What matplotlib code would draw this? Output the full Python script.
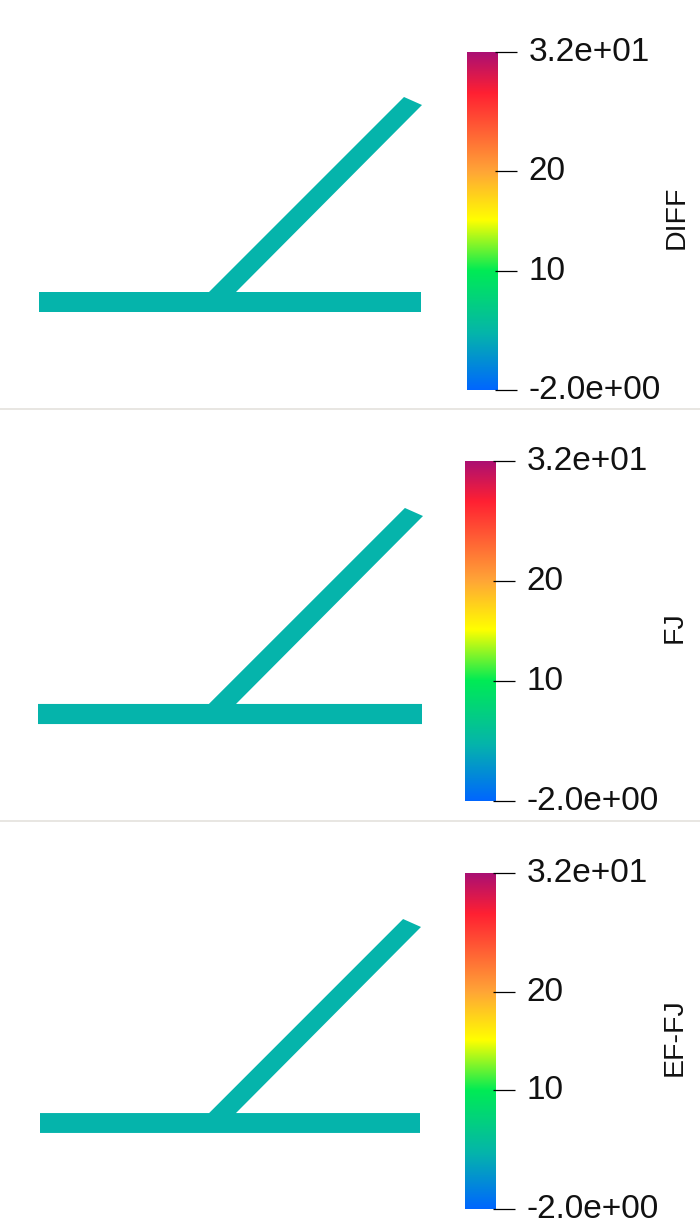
import numpy as np
import matplotlib
matplotlib.use("Agg")
import matplotlib.pyplot as plt
from matplotlib.colors import LinearSegmentedColormap, Normalize
from matplotlib.lines import Line2D
from matplotlib.patches import Polygon
from matplotlib.transforms import ScaledTranslation

# panel names, top to bottom
titles = ["DIFF", "FJ", "EF-FJ"]

# colour scale
vmin, vmax = -2.0, 32.0
tick_values = [-2.0, 10, 20, 32.0]
tick_labels = ["-2.0e+00", "10", "20", "3.2e+01"]
cmap_values = [-2.0, 3.7, 10.0, 15.1, 20.0, 27.9, 32.0]
cmap_colors = ["#0066ff", "#05b5aa", "#00eb55", "#ffff00", "#ffa537", "#ff2032", "#aa0f73"]

# field value on the whole mesh (flat colour)
mesh_value = 3.7

# mesh outline, horizontal plate with the slanted plate coming off it
mesh_x = [0, 382, 382, 197, 383, 365, 170, 0]
mesh_y = [-10, -10, 10, 10, 197, 205, 10, 10]

W, H = 700, 1228


def px_axes(fig, left, top, right, bottom):
    # axes from pixel box, y counted from the top of the image
    return fig.add_axes([left / W, 1 - bottom / H, (right - left) / W, (bottom - top) / H])


norm = Normalize(vmin, vmax)
cmap = LinearSegmentedColormap.from_list(
    "scale", [(norm(v), c) for v, c in zip(cmap_values, cmap_colors)], N=512)

fig = plt.figure(figsize=(W / 100, H / 100), dpi=100, facecolor="white")
plt.rcParams["font.family"] = ["Liberation Sans", "DejaVu Sans"]

# mesh box (left, right, y of plate centre, px per unit) and bar box for each panel
mesh_boxes = [(39, 421, 302, 1.0), (38, 422, 714, 1.005), (40, 420, 1123, 0.995)]
bar_boxes = [(467, 52, 498, 390), (465, 461, 496, 801), (465, 873, 496, 1209)]
title_x = [677, 675, 675]

for i in range(3):
    left, right, yc, k = mesh_boxes[i]
    ax = px_axes(fig, left, yc - 215 * k, right, yc + 15 * k)
    ax.set_xlim(0, 382)
    ax.set_ylim(-15, 215)
    ax.axis("off")
    ax.add_patch(Polygon(np.column_stack([mesh_x, mesh_y]), closed=True, clip_on=False,
                         facecolor=cmap(norm(mesh_value)), edgecolor="none"))

    bl, bt, br, bb = bar_boxes[i]
    cax = px_axes(fig, bl, bt, br, bb)
    grad = np.linspace(vmin, vmax, 512).reshape(-1, 1)
    cax.imshow(grad, cmap=cmap, norm=norm, origin="lower", aspect="auto",
               extent=[0, 1, vmin, vmax])
    for s in cax.spines.values():
        s.set_visible(False)
    cax.set_xticks([])
    cax.yaxis.tick_right()
    cax.set_yticks(tick_values)
    cax.set_yticklabels(tick_labels, fontsize=24, color="#111111")
    cax.tick_params(axis="y", length=0, pad=22)
    # labels sit a little above their ticks
    for lab in cax.get_yticklabels():
        lab.set_transform(lab.get_transform() + ScaledTranslation(0, 3 / 100, fig.dpi_scale_trans))
    # ticks start a little inside the bar
    for v in tick_values:
        cax.plot([0.9, 1.62], [v, v], color="black", lw=0.9, clip_on=False,
                 transform=cax.get_yaxis_transform(), solid_capstyle="butt")
    cax.set_ylim(vmin, vmax)

    fig.text(title_x[i] / W, 1 - ((bt + bb) / 2 - 4) / H, titles[i], rotation=90, ha="center",
             va="center", fontsize=20.5, color="#111111")

# light lines between the panels
for y in [409, 821]:
    fig.add_artist(Line2D([0, 1], [1 - y / H, 1 - y / H], color="#e8e6e2", lw=1.4))

fig.savefig("out.png", dpi=100)
